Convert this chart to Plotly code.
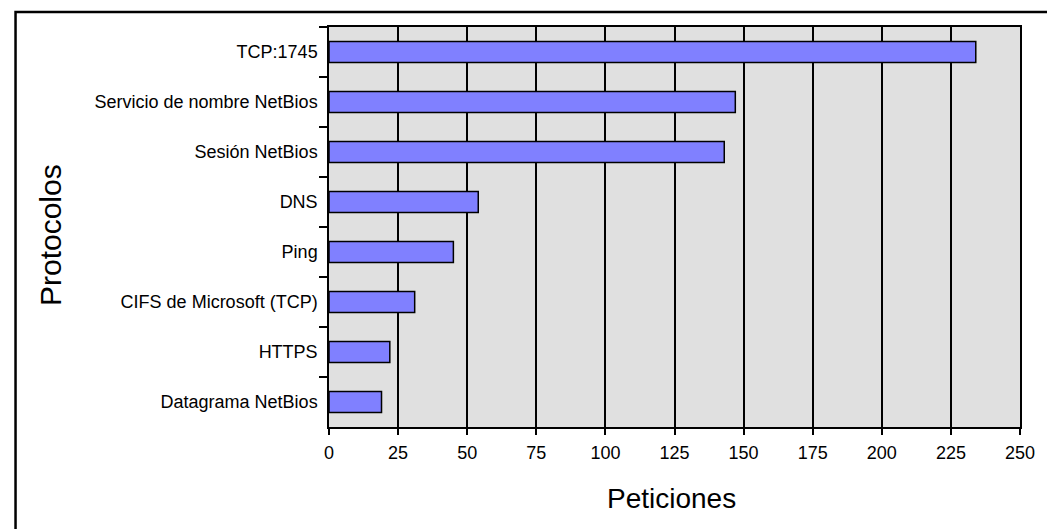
import plotly.graph_objects as go

categories = ["TCP:1745", "Servicio de nombre NetBios", "Sesión NetBios", "DNS",
              "Ping", "CIFS de Microsoft (TCP)", "HTTPS", "Datagrama NetBios"]
values = [234, 147, 143, 54, 45, 31, 22, 19]
x_ticks = [0, 25, 50, 75, 100, 125, 150, 175, 200, 225, 250]

W, H = 1047, 529
L, R, T, B = 329, 17, 27, 102
pw, ph = W - L - R, H - T - B

FONT = "Liberation Sans, Arial, sans-serif"

fig = go.Figure(go.Bar(
    x=values, y=categories, orientation="h",
    width=0.42,
    marker=dict(color="#8080ff", line=dict(color="#000000", width=1.5)),
))

fig.update_layout(
    width=W, height=H,
    margin=dict(l=L, r=R, t=T, b=B, pad=0),
    paper_bgcolor="#ffffff",
    plot_bgcolor="#e0e0e0",
    showlegend=False,
    font=dict(family=FONT, color="#000000", size=18),
    xaxis=dict(
        range=[0, 250], tickvals=x_ticks, ticktext=[str(v) for v in x_ticks],
        showgrid=True, gridcolor="#000000", gridwidth=1.5,
        zeroline=False, showline=True, linecolor="#000000", linewidth=1.5, mirror=True,
        ticks="outside", ticklen=6, tickwidth=1.5, tickcolor="#000000",
        ticklabelstandoff=3,
        tickfont=dict(size=18, family=FONT),
    ),
    yaxis=dict(
        autorange="reversed", categoryorder="array", categoryarray=categories,
        showgrid=False, zeroline=False, showline=True, linecolor="#000000",
        linewidth=1.5, mirror=True,
        ticks="outside", ticklen=8, tickwidth=1.5, tickcolor="#000000",
        tickson="boundaries", ticklabelstandoff=6,
        tickfont=dict(size=18, family=FONT),
    ),
    annotations=[
        dict(text="Peticiones", xref="paper", yref="paper",
             x=(676 - L) / pw, y=(H - B - 498) / ph, xanchor="center", yanchor="middle",
             showarrow=False, font=dict(size=28, family=FONT)),
        dict(text="Protocolos", xref="paper", yref="paper", textangle=-90,
             x=(46 - L) / pw, y=(H - B - 235) / ph, xanchor="center", yanchor="middle",
             showarrow=False, font=dict(size=30, family=FONT)),
    ],
    shapes=[
        dict(type="rect", xref="paper", yref="paper",
             x0=(11 - L) / pw, x1=(W + 20 - L) / pw,
             y0=(H - B - (H + 20)) / ph, y1=(H - B - 12) / ph,
             line=dict(color="#000000", width=2.5), layer="below"),
    ],
)

fig.write_html("out.html", config={"displayModeBar": False},
               post_script="document.body.style.margin='0';")
